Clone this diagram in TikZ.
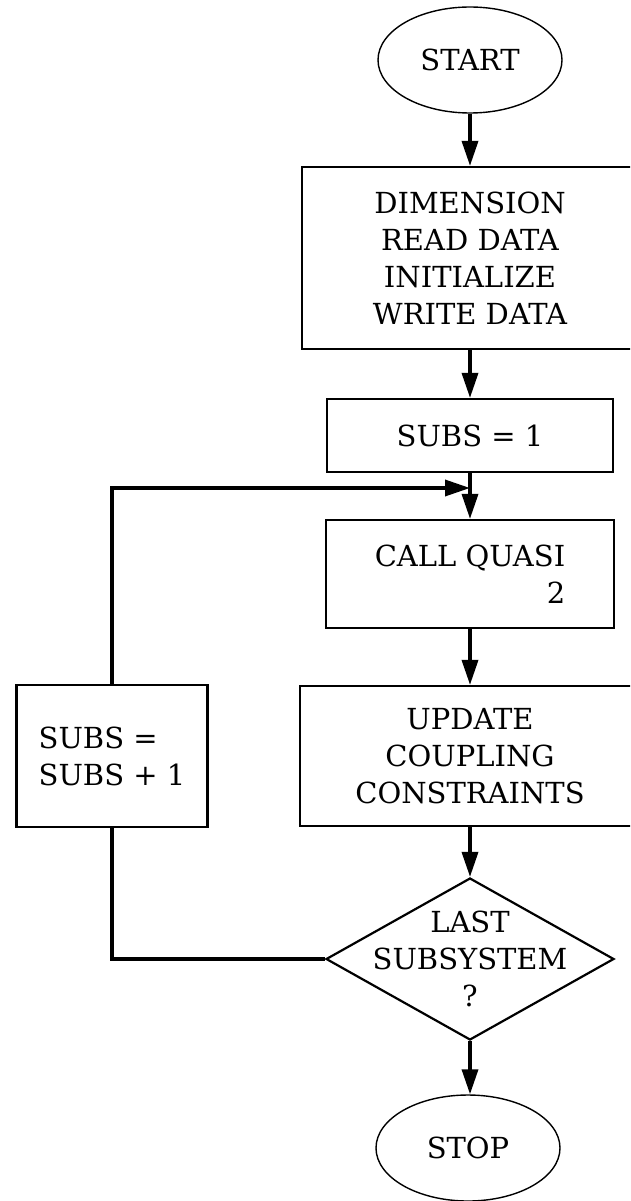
\documentclass[tikz,border=0pt]{standalone}
\usepackage{fontspec}
\setmainfont{DejaVu Serif}
\usetikzlibrary{arrows.meta,shapes.geometric}
\begin{document}
\begin{tikzpicture}[x=1pt,y=-1pt,
  every node/.style={font=\fontsize{29}{37}\selectfont, inner sep=0pt},
  term/.style={ellipse,draw,line width=1.4pt,minimum width=184pt,minimum height=106pt},
  proc/.style={rectangle,draw,line width=2.2pt},
  dec/.style={diamond,draw,line width=2.2pt,minimum width=288pt,minimum height=162pt},
  flow/.style={line width=3.5pt,-{Triangle[length=25pt,width=16pt]}},
  link/.style={line width=3.5pt}]
\useasboundingbox (0,0) rectangle (630,1201);
\clip (0,0) rectangle (630,1201);
\node[term] (start) at (470,60) {START};
\node[proc,align=center,minimum width=336pt,minimum height=182pt] (dim) at (470,258)
  {DIMENSION\\READ DATA\\INITIALIZE\\WRITE DATA};
\node[proc,minimum width=286pt,minimum height=73pt] (sub1) at (470,435.5) {SUBS = 1};
\node[proc,align=right,minimum width=288pt,minimum height=108pt] (cq) at (470,574)
  {CALL QUASI\\2};
\node[proc,align=center,minimum width=340pt,minimum height=140pt] (upd) at (470,756)
  {UPDATE\\COUPLING\\CONSTRAINTS};
\node[proc,align=left,minimum width=191pt,minimum height=142pt] (inc) at (112,756)
  {SUBS =\\SUBS + 1};
\node[dec] (dec) at (470,959) {};
\node[align=center] (dectext) at (dec.center) {LAST\\SUBSYSTEM\\?};
\node[term] (stop) at (468,1148) {STOP};
\coordinate (join) at (470,488);
\draw[flow] (start.south) -- (dim.north);
\draw[flow] (dim.south) -- (sub1.north);
\draw[flow] (sub1.south) -- (cq.north);
\draw[flow] (cq.south) -- (upd.north);
\draw[flow] (upd.south) -- (dec.north);
\draw[flow] (dec.south) -- (dec.south |- stop.north);
\draw[link] (dec.west) -| (inc.south);
\draw[flow] (inc.north) |- (join);
\end{tikzpicture}
\end{document}
